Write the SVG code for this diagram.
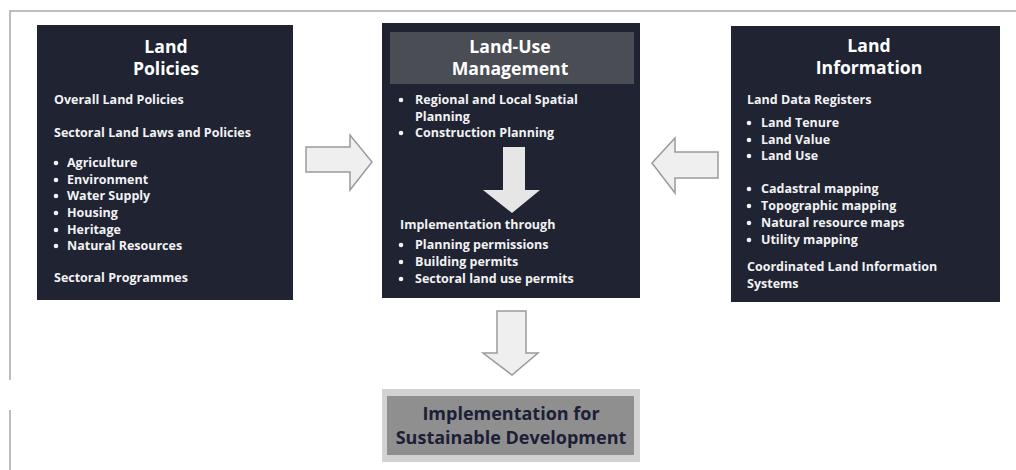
<svg xmlns="http://www.w3.org/2000/svg" width="1016" height="470" viewBox="0 0 1016 470">
<style>
.box{fill:#1f2332}
.title{font-family:"Open Sans",sans-serif;font-weight:700;font-size:17.6px;fill:#ffffff;text-anchor:middle}
.t{font-family:"Open Sans",sans-serif;font-weight:700;font-size:12.5px;fill:#f2f2f2}
.dot{fill:#f2f2f2}
.arrow{fill:#efefef;stroke:#9a9a9a;stroke-width:1.5}
.frame{stroke:#a8a8a8;stroke-width:1.5;fill:none}
.impl{font-family:"Open Sans",sans-serif;font-weight:700;font-size:18px;fill:#1c2036;text-anchor:middle}
</style>
<rect width="1016" height="470" fill="#ffffff"/>
<path class="frame" d="M1016 11 H10 V380 M10 410 V470"/>

<g id="land-policies">
<rect class="box" x="37" y="25" width="256" height="275"/>
<text class="title" x="166" y="53">Land</text>
<text class="title" x="166" y="75">Policies</text>
<text class="t" x="54" y="104">Overall Land Policies</text>
<text class="t" x="54" y="137">Sectoral Land Laws and Policies</text>
<circle class="dot" cx="56" cy="163" r="2.3"/><text class="t" x="67" y="167">Agriculture</text>
<circle class="dot" cx="56" cy="180" r="2.3"/><text class="t" x="67" y="184">Environment</text>
<circle class="dot" cx="56" cy="196" r="2.3"/><text class="t" x="67" y="200">Water Supply</text>
<circle class="dot" cx="56" cy="213" r="2.3"/><text class="t" x="67" y="217">Housing</text>
<circle class="dot" cx="56" cy="230" r="2.3"/><text class="t" x="67" y="234">Heritage</text>
<circle class="dot" cx="56" cy="246" r="2.3"/><text class="t" x="67" y="250">Natural Resources</text>
<text class="t" x="54" y="282">Sectoral Programmes</text>
</g>

<g id="land-use-management">
<rect class="box" x="382" y="23" width="258" height="275"/>
<rect x="390" y="32" width="244" height="52" fill="#4b4d54"/>
<text class="title" x="510" y="53">Land-Use</text>
<text class="title" x="510" y="75">Management</text>
<circle class="dot" cx="401" cy="100" r="2.3"/><text class="t" x="415" y="104">Regional and Local Spatial</text>
<text class="t" x="415" y="121">Planning</text>
<circle class="dot" cx="401" cy="133" r="2.3"/><text class="t" x="415" y="137">Construction Planning</text>
<path d="M503 147 H525 V190 H540 L512 213 L483 190 H503 Z" fill="#e6e6e6"/>
<text class="t" x="400" y="229">Implementation through</text>
<circle class="dot" cx="401" cy="245" r="2.3"/><text class="t" x="415" y="249">Planning permissions</text>
<circle class="dot" cx="401" cy="262" r="2.3"/><text class="t" x="415" y="266">Building permits</text>
<circle class="dot" cx="401" cy="279" r="2.3"/><text class="t" x="415" y="283">Sectoral land use permits</text>
</g>

<g id="land-information">
<rect class="box" x="731" y="26" width="269" height="276"/>
<text class="title" x="869" y="52">Land</text>
<text class="title" x="869" y="74">Information</text>
<text class="t" x="747" y="104">Land Data Registers</text>
<circle class="dot" cx="749" cy="123" r="2.3"/><text class="t" x="761" y="127">Land Tenure</text>
<circle class="dot" cx="749" cy="140" r="2.3"/><text class="t" x="761" y="144">Land Value</text>
<circle class="dot" cx="749" cy="156" r="2.3"/><text class="t" x="761" y="160">Land Use</text>
<circle class="dot" cx="749" cy="189" r="2.3"/><text class="t" x="761" y="193">Cadastral mapping</text>
<circle class="dot" cx="749" cy="206" r="2.3"/><text class="t" x="761" y="210">Topographic mapping</text>
<circle class="dot" cx="749" cy="223" r="2.3"/><text class="t" x="761" y="227">Natural resource maps</text>
<circle class="dot" cx="749" cy="240" r="2.3"/><text class="t" x="761" y="244">Utility mapping</text>
<text class="t" x="747" y="271">Coordinated Land Information</text>
<text class="t" x="747" y="288">Systems</text>
</g>

<g id="sustainable-development">
<rect x="382" y="389" width="258" height="73" fill="#d2d2d2"/>
<rect x="387" y="396" width="247" height="59" fill="#8f8f8f"/>
<text class="impl" x="511" y="420">Implementation for</text>
<text class="impl" x="511" y="444">Sustainable Development</text>
</g>

<g id="connectors">
<path class="arrow" d="M306 147 H350 V135 L372 162 L350 190 V172 H306 Z"/>
<path class="arrow" d="M718 152 H675 V138 L652 163 L675 193 V178 H718 Z"/>
<path class="arrow" d="M497 311 H526 V353 H538 L512 375 L483 353 H497 Z"/>
</g>
</svg>
